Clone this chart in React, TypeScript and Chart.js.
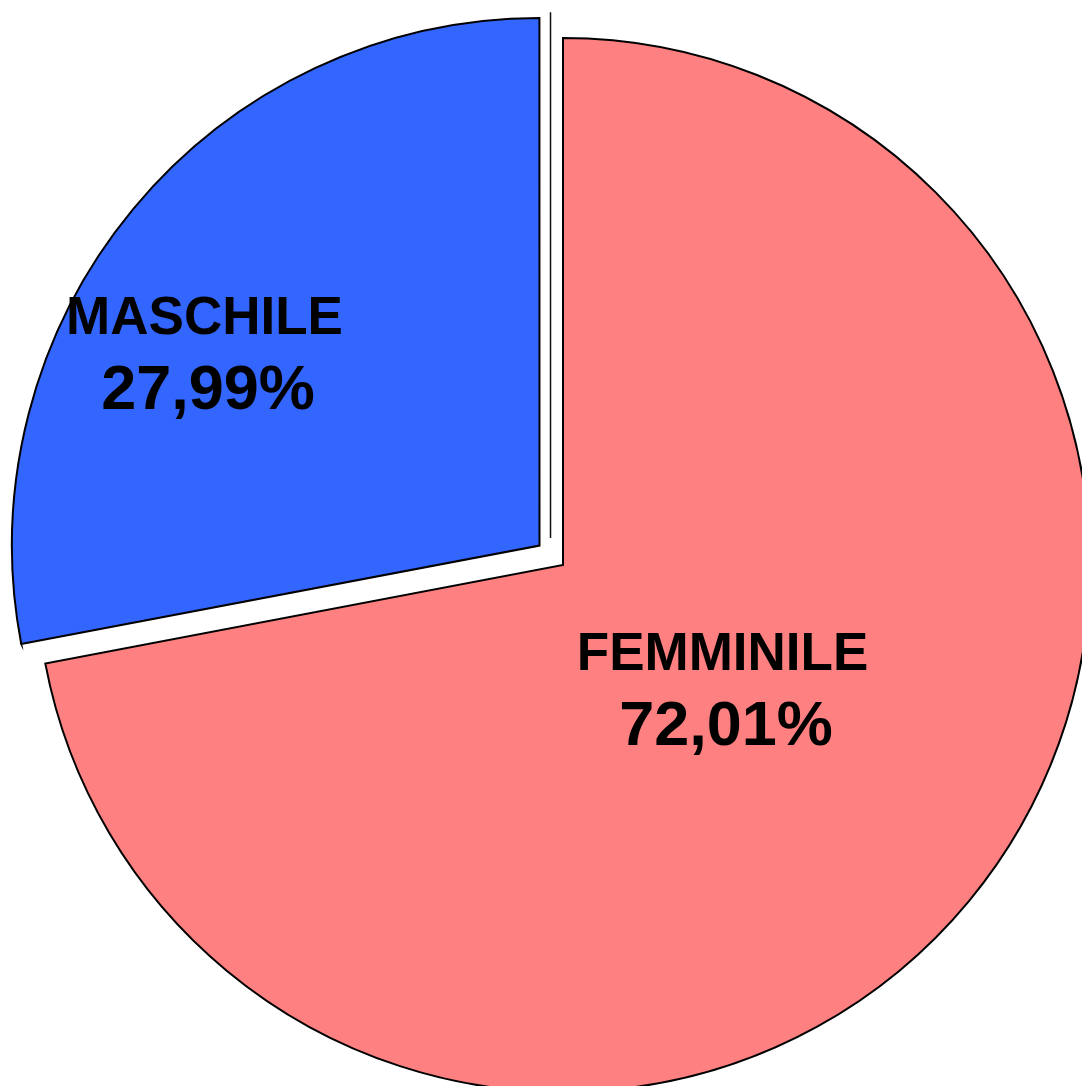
import React, { useEffect, useRef } from "react";
import { Chart, registerables } from "chart.js";

Chart.register(...registerables);

const categories = ["FEMMINILE", "MASCHILE"];
const values = [72.01, 27.99];
const valueLabels = ["72,01%", "27,99%"];
const sliceColors = ["#FF8080", "#3366FF"];
const sliceOffsets = [0, 122];

// label anchor (first-line baseline) offsets from each slice's visual centre, as fractions of the radius
const labelOffsets = [
  { dx: 0.3027, dy: 0.199 },
  { dx: -0.6357, dy: -0.402 },
];

const labelPlugin = {
  id: "sliceLabels",
  afterDatasetsDraw(chart: any) {
    const meta = chart.getDatasetMeta(0);
    const ctx = chart.ctx;
    ctx.save();
    meta.data.forEach((arc: any, i: number) => {
      const p = arc.getProps(["x", "y", "startAngle", "endAngle", "outerRadius"], true);
      const off = (arc.options.offset || 0) / 4;
      const half = (p.startAngle + p.endAngle) / 2;
      const cx = p.x + Math.cos(half) * off;
      const cy = p.y + Math.sin(half) * off;
      const R = p.outerRadius;
      const ax = cx + labelOffsets[i].dx * R;
      const ay = cy + labelOffsets[i].dy * R;
      ctx.fillStyle = "#000000";
      ctx.textAlign = "center";
      ctx.textBaseline = "alphabetic";
      ctx.font = "bold 53px 'Liberation Sans', Arial, sans-serif";
      ctx.fillText(categories[i], ax, ay);
      ctx.font = "bold 63px 'Liberation Sans', Arial, sans-serif";
      ctx.fillText(valueLabels[i], ax + 3.5, ay + 75);
    });
    // thin vertical stroke near the separation of the slices
    const a0: any = meta.data[0];
    if (a0) {
      const R = a0.outerRadius;
      const x = a0.x - 0.0237 * R;
      ctx.strokeStyle = "#111111";
      ctx.lineWidth = 1.5;
      ctx.beginPath();
      ctx.moveTo(x, a0.y - 1.049 * R);
      ctx.lineTo(x, a0.y - 0.051 * R);
      ctx.stroke();
    }
    ctx.restore();
  },
};

export default function App() {
  const ref = useRef<HTMLCanvasElement | null>(null);
  useEffect(() => {
    if (!ref.current) return;
    const chart = new Chart(ref.current, {
      type: "pie",
      data: {
        labels: categories,
        datasets: [
          {
            data: values,
            backgroundColor: sliceColors,
            borderColor: "#000000",
            borderWidth: 2,
            borderJoinStyle: "miter",
            offset: sliceOffsets,
            clip: false,
          } as any,
        ],
      },
      options: {
        animation: false,
        responsive: true,
        maintainAspectRatio: false,
        radius: 527,
        layout: { padding: { left: 44, top: 44, right: 0, bottom: 0 } },
        plugins: {
          legend: { display: false },
          tooltip: { enabled: false },
          title: { display: false },
        },
        events: [],
      } as any,
      plugins: [labelPlugin],
    });
    return () => chart.destroy();
  }, []);
  return (
    <div
      style={{
        position: "absolute",
        left: 0,
        top: 0,
        width: 1082,
        height: 1086,
        background: "#ffffff",
        overflow: "hidden",
      }}
    >
      <canvas ref={ref} />
    </div>
  );
}
